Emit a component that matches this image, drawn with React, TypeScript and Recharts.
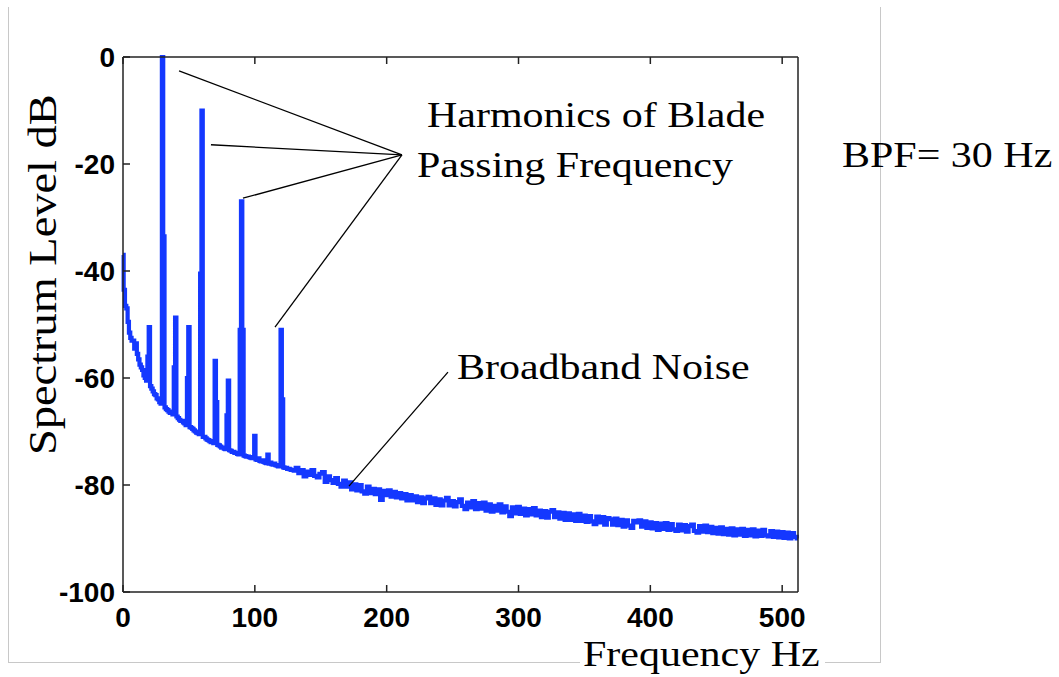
import { ComposedChart, Line, XAxis, YAxis, ReferenceLine } from 'recharts';

// spectrum level (dB), 1 Hz bins from 0 to 129 Hz
const lowFreqLevels = [
  -37, -43.5, -46.5, -47, -49.5, -51.5, -52.5, -53, -53, -54.5,
  -53.5, -55.5, -56.5, -57.5, -58, -58.5, -59.5, -60, -60.5, -56,
  -50.5, -61.5, -62, -62.5, -63, -63.2, -63.8, -64, -64.5, -64.8,
  0, -33.5, -65.5, -65.8, -66, -66.3, -66.5, -66.5, -66.8, -58,
  -48.7, -67.2, -67.5, -67.8, -68, -68, -68.3, -68.5, -68.8, -60,
  -50.5, -69.2, -69.3, -69.5, -69.8, -70, -70.2, -70.3, -70.5, -40.5,
  -10, -71, -71, -71.3, -71.5, -71.6, -71.8, -72, -72, -72.2,
  -56.8, -64.5, -72.5, -72.6, -72.8, -73, -73, -73.2, -73.3, -67,
  -60.5, -73.5, -73.6, -73.8, -73.8, -74, -74, -74.2, -74.3, -51,
  -27, -51, -74.5, -74.6, -74.7, -74.7, -74.8, -74.9, -75, -75,
  -70.8, -75.2, -75.3, -75, -75.5, -75.6, -75.4, -75.7, -75.8, -75.9,
  -74.3, -76, -75.8, -76.1, -76.2, -76, -76.3, -76.4, -76.5, -76.5,
  -51, -64, -76.7, -76.8, -76.8, -77, -77, -77.1, -77.2, -77.2,
];

// spectrum level (dB), 2 Hz bins from 130 to 512 Hz
const highFreqLevels = [
  -77.3, -76.8, -77.8, -77.2, -78.4, -77.5, -78.1, -77.2, -78.3, -78.6,
  -77.9, -77.6, -79.4, -78.4, -79.1, -79.6, -78.7, -79.8, -80.3, -79.2,
  -80.3, -79.5, -80.8, -79.9, -81.0, -80.0, -81.2, -81.6, -80.3, -81.5,
  -80.7, -81.7, -80.8, -82.8, -81.1, -81.9, -81.0, -82.2, -81.3, -82.3,
  -81.5, -82.5, -81.7, -82.9, -81.9, -82.9, -82.1, -83.2, -82.3, -83.4,
  -82.5, -82.2, -83.4, -82.5, -83.7, -82.7, -83.8, -82.9, -82.4, -83.8,
  -83.0, -84.0, -83.2, -82.7, -83.9, -84.5, -83.3, -84.2, -83.0, -84.5,
  -83.4, -84.4, -83.3, -84.8, -83.6, -85.0, -83.9, -84.8, -83.6, -85.1,
  -84.0, -85.0, -85.8, -84.2, -85.3, -84.1, -85.4, -84.4, -85.7, -84.5,
  -85.5, -84.3, -85.7, -84.8, -86.0, -84.9, -86.1, -85.0, -84.7, -86.0,
  -85.1, -86.3, -85.2, -86.5, -85.3, -86.5, -85.5, -86.7, -85.4, -86.7,
  -85.7, -86.9, -85.8, -86.8, -87.3, -85.9, -87.0, -86.0, -87.4, -86.2,
  -86.4, -87.4, -86.3, -87.5, -86.5, -87.8, -86.6, -87.6, -88.0, -86.7,
  -87.0, -86.6, -87.8, -86.8, -88.0, -87.0, -88.1, -87.1, -88.4, -87.2,
  -88.2, -87.1, -88.4, -87.3, -88.3, -88.6, -87.4, -88.5, -87.5, -88.7,
  -87.7, -87.4, -88.6, -88.9, -87.7, -88.7, -87.6, -88.8, -87.8, -89.0,
  -88.0, -89.1, -87.9, -89.2, -88.2, -89.3, -88.1, -89.4, -88.3, -89.3,
  -88.2, -89.5, -88.4, -89.4, -88.3, -89.6, -88.5, -89.5, -88.4, -89.4,
  -89.6, -88.6, -89.7, -88.7, -89.8, -88.8, -89.9, -88.9, -90.0, -89.0,
  -89.7, -90.0,
];

const xTicks = [0, 100, 200, 300, 400, 500];
const yTicks = [-100, -80, -60, -40, -20, 0];

// pointer lines, in data coordinates (Hz, dB)
const harmonicPointers = [
  { from: [42.5, -2.6], to: [211.6, -18.3] },
  { from: [66.7, -16.4], to: [211.6, -18.3] },
  { from: [91.0, -26.4], to: [211.6, -18.3] },
  { from: [115.3, -50.5], to: [211.6, -18.3] },
];
const noisePointer = { from: [171.4, -80.2], to: [246.5, -58.9] };

const data = [
  ...lowFreqLevels.map((level, i) => ({ freq: i, level })),
  ...highFreqLevels.map((level, i) => ({ freq: 130 + i * 2, level })),
];

const AXIS = '#222';
const tickFont = { fontFamily: 'Liberation Sans, Arial, sans-serif', fontWeight: 'bold' as const, fontSize: 28, fill: '#000' };
const serif = 'Liberation Serif, Times New Roman, serif';

const BottomTick = ({ x, y, payload }: any) => (
  <g>
    <line x1={x} y1={y} x2={x} y2={y - 7} stroke={AXIS} strokeWidth={1.5} />
    <text x={x} y={y + 35} textAnchor="middle" {...tickFont}>{payload.value}</text>
  </g>
);

const LeftTick = ({ x, y, payload }: any) => (
  <g>
    <line x1={x} y1={y} x2={x + 7} y2={y} stroke={AXIS} strokeWidth={1.5} />
    <text x={x - 8} y={y + 10} textAnchor="end" {...tickFont}>{payload.value}</text>
  </g>
);

const TopTick = ({ x, y }: any) => (
  <line x1={x} y1={y} x2={x} y2={y + 7} stroke={AXIS} strokeWidth={1.5} />
);

const RightTick = ({ x, y }: any) => (
  <line x1={x} y1={y} x2={x - 7} y2={y} stroke={AXIS} strokeWidth={1.5} />
);

const Stretched = ({ x, y, size, sx, children }: any) => (
  <text transform={`translate(${x},${y}) scale(${sx},1)`} fontFamily={serif} fontSize={size} fill="#000">
    {children}
  </text>
);

export default function App() {
  return (
    <div style={{ position: 'absolute', left: 0, top: 0, width: 1059, height: 677, background: '#fff' }}>
      <div
        style={{
          position: 'absolute', left: 8, top: 7, width: 871, height: 655,
          borderLeft: '1px solid #c8c8c8', borderRight: '1px solid #c8c8c8', borderBottom: '1px solid #c8c8c8',
        }}
      />
      <div style={{ position: 'absolute', left: 0, top: 0 }}>
        <ComposedChart width={1059} height={677} data={data} margin={{ top: 47, right: 251, bottom: 40, left: 0 }}>
          <XAxis
            dataKey="freq" type="number" domain={[0, 512]} ticks={xTicks}
            height={45} tickSize={0} tickMargin={0} tickLine={false}
            axisLine={{ stroke: AXIS, strokeWidth: 1.5 }} tick={BottomTick} interval={0}
          />
          <XAxis
            xAxisId="top" orientation="top" dataKey="freq" type="number" domain={[0, 512]} ticks={xTicks}
            height={10} tickSize={0} tickMargin={0} tickLine={false}
            axisLine={{ stroke: AXIS, strokeWidth: 1.5 }} tick={TopTick} interval={0}
          />
          <YAxis
            type="number" domain={[-100, 0]} ticks={yTicks} width={123}
            tickSize={0} tickMargin={0} tickLine={false}
            axisLine={{ stroke: AXIS, strokeWidth: 1.5 }} tick={LeftTick} interval={0}
          />
          <YAxis
            yAxisId="right" orientation="right" type="number" domain={[-100, 0]} ticks={yTicks} width={10}
            tickSize={0} tickMargin={0} tickLine={false}
            axisLine={{ stroke: AXIS, strokeWidth: 1.5 }} tick={RightTick} interval={0}
          />
          <Line
            dataKey="level" type="step" stroke="#1438ff" strokeWidth={4.2}
            dot={false} activeDot={false} isAnimationActive={false}
          />
          {harmonicPointers.map((p, i) => (
            <ReferenceLine
              key={i}
              segment={[{ x: p.from[0], y: p.from[1] }, { x: p.to[0], y: p.to[1] }]}
              stroke="#000" strokeWidth={1.3}
            />
          ))}
          <ReferenceLine
            segment={[{ x: noisePointer.from[0], y: noisePointer.from[1] }, { x: noisePointer.to[0], y: noisePointer.to[1] }]}
            stroke="#000" strokeWidth={1.3}
          />
        </ComposedChart>
      </div>
      <svg width={1059} height={677} style={{ position: 'absolute', left: 0, top: 0, pointerEvents: 'none' }}>
        <rect x={580} y={638} width={245} height={34} fill="#fff" />
        <Stretched x={427} y={127} size={35} sx={1.2}>Harmonics of Blade</Stretched>
        <Stretched x={417} y={177} size={35} sx={1.2}>Passing Frequency</Stretched>
        <Stretched x={842} y={167} size={35} sx={1.2}>BPF= 30 Hz</Stretched>
        <Stretched x={457} y={379} size={35} sx={1.2}>Broadband Noise</Stretched>
        <Stretched x={583} y={666} size={35} sx={1.2}>Frequency Hz</Stretched>
        <text
          transform="translate(56,455) rotate(-90) scale(1.16,1)"
          fontFamily={serif} fontSize={40} fill="#000"
        >
          Spectrum Level dB
        </text>
      </svg>
    </div>
  );
}
